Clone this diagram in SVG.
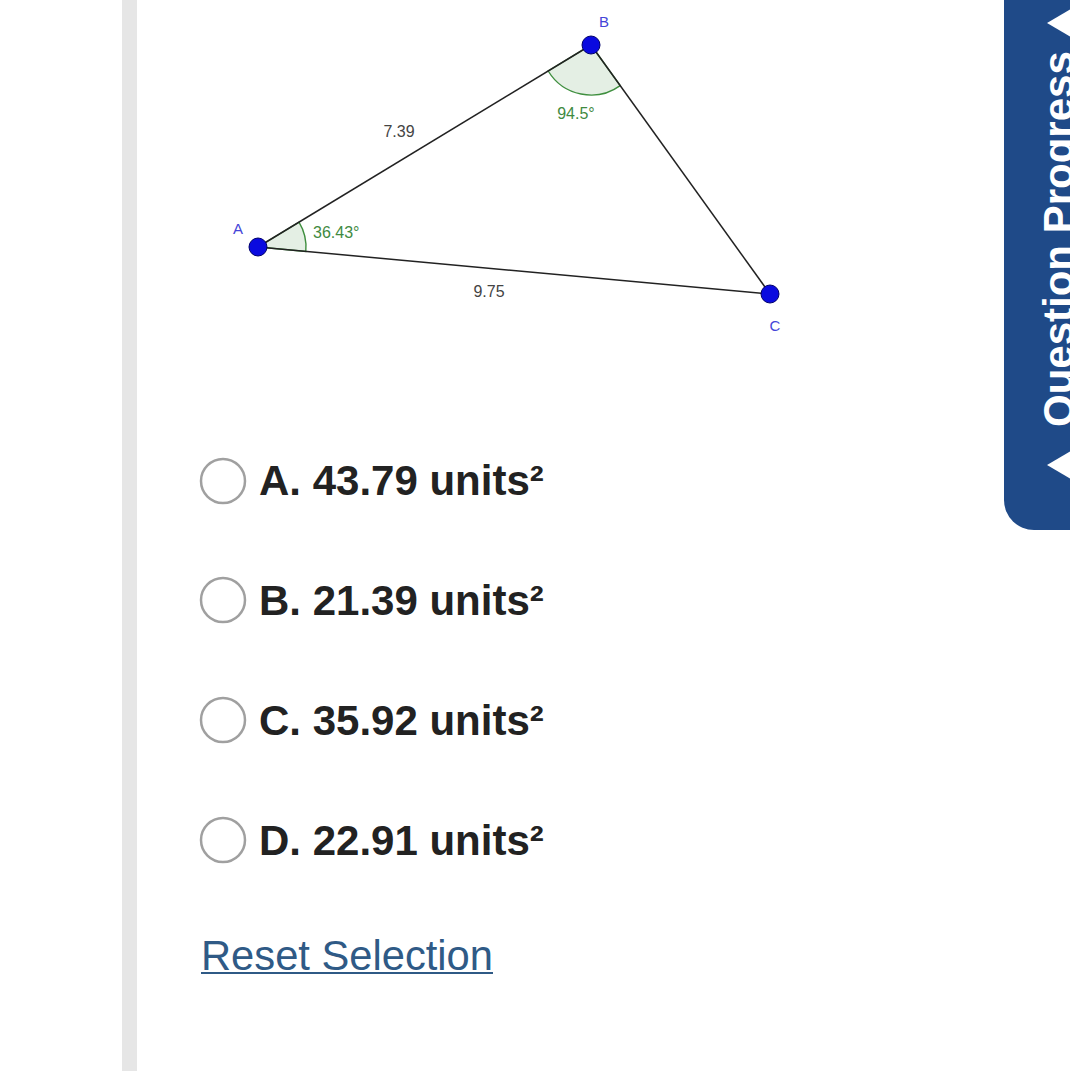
<svg xmlns="http://www.w3.org/2000/svg" width="1070" height="1071" viewBox="0 0 1070 1071">
<style>
.seg{stroke:#222;stroke-width:1.5;fill:none}
.ang{fill:#e4efe4;stroke:#3f8f3f;stroke-width:1.4}
.angt{font-family:"Liberation Sans",Arial,sans-serif;font-size:16px;fill:#3f8a3f}
.lent{font-family:"Liberation Sans",Arial,sans-serif;font-size:16px;fill:#444}
.pt{fill:#0a0adf;stroke:#00006a;stroke-width:1}
.ptl{font-family:"Liberation Sans",Arial,sans-serif;font-size:15px;fill:#4545d8}
.radio{fill:#fff;stroke:#a0a0a0;stroke-width:2.5}
.opt{font-family:"Liberation Sans",Arial,sans-serif;font-size:42px;font-weight:bold;fill:#222}
</style>
<rect x="0" y="0" width="1070" height="1071" fill="#fff"/>
<rect x="122" y="0" width="15" height="1071" fill="#e6e6e6"/>
<g id="panel">
<path d="M1004 0 H1070 V530 H1034 A30 30 0 0 1 1004 500 Z" fill="#1f4a88"/>
<text transform="translate(1073,427) rotate(-90)" font-family="Liberation Sans,Arial,sans-serif" font-size="42" font-weight="bold" fill="#fff">Question Progress</text>
<polygon points="1047,23 1071,9 1071,37" fill="#fff"/>
<polygon points="1047,465 1071,451 1071,479" fill="#fff"/>
</g>
<g id="angles">
<path class="ang" d="M258 247 L299 222.1 A48 48 0 0 1 305.8 251.4 Z"/>
<path class="ang" d="M591 45 L620.2 85.6 A50 50 0 0 1 548.2 71 Z"/>
</g>
<g id="connectors">
<line class="seg" x1="258" y1="247" x2="591" y2="45"/>
<line class="seg" x1="591" y1="45" x2="770" y2="294"/>
<line class="seg" x1="258" y1="247" x2="770" y2="294"/>
</g>
<g id="labels">
<text class="lent" x="399" y="137" text-anchor="middle">7.39</text>
<text class="lent" x="489" y="297" text-anchor="middle">9.75</text>
<text class="angt" x="576" y="119" text-anchor="middle">94.5°</text>
<text class="angt" x="313" y="238">36.43°</text>
</g>
<g id="pointA"><circle class="pt" cx="258" cy="247" r="9"/><text class="ptl" x="238" y="234" text-anchor="middle">A</text></g>
<g id="pointB"><circle class="pt" cx="591" cy="45" r="9"/><text class="ptl" x="604" y="27" text-anchor="middle">B</text></g>
<g id="pointC"><circle class="pt" cx="770" cy="294" r="9"/><text class="ptl" x="775" y="331" text-anchor="middle">C</text></g>
<g id="optA"><circle class="radio" cx="223" cy="481" r="22"/><text class="opt" x="259" y="495">A. 43.79 units²</text></g>
<g id="optB"><circle class="radio" cx="223" cy="600" r="22"/><text class="opt" x="259" y="615">B. 21.39 units²</text></g>
<g id="optC"><circle class="radio" cx="223" cy="720" r="22"/><text class="opt" x="259" y="735">C. 35.92 units²</text></g>
<g id="optD"><circle class="radio" cx="223" cy="840" r="22"/><text class="opt" x="259" y="855">D. 22.91 units²</text></g>
<g id="reset">
<text x="201" y="970" font-family="Liberation Sans,Arial,sans-serif" font-size="41.7" fill="#2f5a86">Reset Selection</text>
<rect x="201" y="972" width="292" height="2" fill="#2f5a86"/>
</g>
</svg>
